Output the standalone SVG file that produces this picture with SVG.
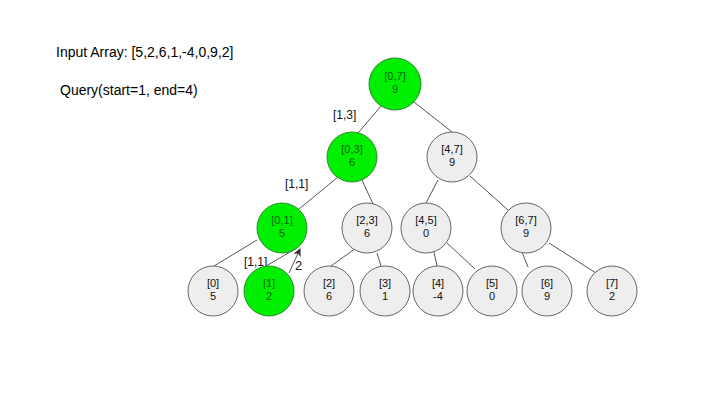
<svg xmlns="http://www.w3.org/2000/svg" width="720" height="405" viewBox="0 0 720 405">
<defs>
<style>
text{font-family:"Liberation Sans",Arial,sans-serif;}
.g circle{fill:#00ee00;stroke:#2e8b2e;stroke-width:1;}
.w circle{fill:#eeeeee;stroke:#666666;stroke-width:1;}
.g text{fill:#006600;font-size:11px;text-anchor:middle;}
.w text{fill:#111111;font-size:11px;text-anchor:middle;}
.e line{stroke:#555555;stroke-width:1;}
.lbl{font-size:12px;fill:#111111;}
.title{font-size:14px;fill:#000000;}
</style>
<marker id="ah" markerWidth="8" markerHeight="8" refX="7" refY="4" orient="auto" markerUnits="userSpaceOnUse">
<path d="M0,0 L8,4 L0,8 L2,4 Z" fill="#333333"/>
</marker>
</defs>
<rect width="720" height="405" fill="#ffffff"/>
<text class="title" x="56" y="57">Input Array: [5,2,6,1,-4,0,9,2]</text>
<text class="title" x="60" y="95">Query(start=1, end=4)</text>
<g id="connectors" class="e">
<line x1="381" y1="106" x2="358" y2="133"/>
<line x1="414" y1="102" x2="452" y2="132"/>
<line x1="338" y1="177" x2="299" y2="209"/>
<line x1="362" y1="180" x2="373" y2="204"/>
<line x1="257" y1="240" x2="214" y2="266"/>
<line x1="266" y1="266" x2="297" y2="248"/>
<line x1="289" y1="273" x2="300" y2="249" marker-end="url(#ah)"/>
<line x1="356" y1="248" x2="331" y2="266"/>
<line x1="377" y1="253" x2="381" y2="266"/>
<line x1="438" y1="180" x2="426" y2="203"/>
<line x1="470" y1="176" x2="508" y2="210"/>
<line x1="434" y1="252" x2="437" y2="266"/>
<line x1="447" y1="243" x2="475" y2="269"/>
<line x1="522" y1="252" x2="528" y2="267"/>
<line x1="549" y1="243" x2="596" y2="273"/>
</g>
<text class="lbl" x="333" y="119">[1,3]</text>
<text class="lbl" x="285" y="188">[1,1]</text>
<text class="lbl" x="244" y="266">[1,1]</text>
<text class="lbl" x="295" y="270" style="font-size:13px">2</text>
<g id="n07" class="g"><circle cx="395" cy="84" r="26"/><text x="395" y="80">[0,7]</text><text x="395" y="93">9</text></g>
<g id="n03" class="g"><circle cx="352" cy="157" r="25"/><text x="352" y="153">[0,3]</text><text x="352" y="166">6</text></g>
<g id="n47" class="w"><circle cx="452" cy="157" r="25"/><text x="452" y="153">[4,7]</text><text x="452" y="166">9</text></g>
<g id="n01" class="g"><circle cx="282" cy="228" r="25"/><text x="282" y="224">[0,1]</text><text x="282" y="237">5</text></g>
<g id="n23" class="w"><circle cx="367" cy="228" r="25"/><text x="367" y="224">[2,3]</text><text x="367" y="237">6</text></g>
<g id="n45" class="w"><circle cx="426" cy="228" r="25"/><text x="426" y="224">[4,5]</text><text x="426" y="237">0</text></g>
<g id="n67" class="w"><circle cx="526" cy="228" r="25"/><text x="526" y="224">[6,7]</text><text x="526" y="237">9</text></g>
<g id="n0" class="w"><circle cx="213" cy="291" r="25"/><text x="213" y="287">[0]</text><text x="213" y="300">5</text></g>
<g id="n1" class="g"><circle cx="269" cy="291" r="25"/><text x="269" y="287">[1]</text><text x="269" y="300">2</text></g>
<g id="n2" class="w"><circle cx="329" cy="291" r="25"/><text x="329" y="287">[2]</text><text x="329" y="300">6</text></g>
<g id="n3" class="w"><circle cx="385" cy="291" r="25"/><text x="385" y="287">[3]</text><text x="385" y="300">1</text></g>
<g id="n4" class="w"><circle cx="438" cy="291" r="25"/><text x="438" y="287">[4]</text><text x="438" y="300">-4</text></g>
<g id="n5" class="w"><circle cx="492" cy="291" r="25"/><text x="492" y="287">[5]</text><text x="492" y="300">0</text></g>
<g id="n6" class="w"><circle cx="547" cy="291" r="25"/><text x="547" y="287">[6]</text><text x="547" y="300">9</text></g>
<g id="n7" class="w"><circle cx="612" cy="291" r="25"/><text x="612" y="287">[7]</text><text x="612" y="300">2</text></g>
</svg>
